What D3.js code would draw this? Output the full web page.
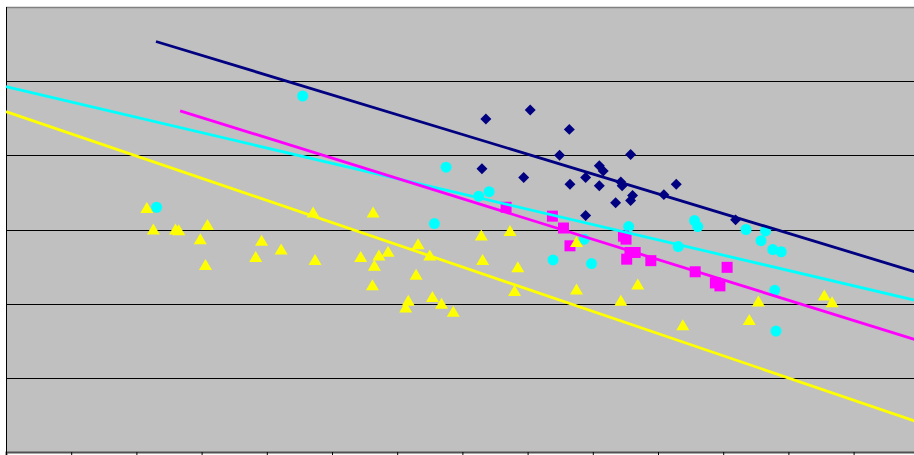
<!DOCTYPE html>
<html>
<head>
<meta charset="utf-8">
<script src="https://cdn.jsdelivr.net/npm/d3@7"></script>
<style>
html,body{margin:0;padding:0;background:#fff;}
svg{display:block;}
</style>
</head>
<body>
<svg id="chart" width="914" height="455"></svg>
<script>
// ---- data (arbitrary units) ----
const xTicks = d3.range(0, 15);          // unlabeled category ticks
const yGrid = [1, 2, 3, 4, 5];           // unlabeled gridlines

const navyX = [7.36,8.04,8.64,8.49,9.58,7.30,7.94,9.10,9.16,8.89,8.65,9.10,9.43,9.45,10.28,10.09,9.61,9.58,9.35,8.89,11.19];
const navyY = [4.49,4.61,4.35,4.00,4.01,3.82,3.70,3.86,3.79,3.70,3.61,3.59,3.64,3.59,3.61,3.47,3.46,3.39,3.36,3.19,3.13];

const cyanX = [2.31,4.55,6.57,6.75,7.41,7.25,9.55,8.87,8.39,8.98,10.31,10.56,10.61,11.35,11.65,11.58,11.76,11.89,11.79,11.81];
const cyanY = [3.30,4.80,3.08,3.84,3.51,3.45,3.04,2.87,2.59,2.54,2.77,3.12,3.04,3.00,2.98,2.85,2.73,2.70,2.18,1.63];

const magentaX = [7.67,8.38,8.55,8.65,9.47,9.51,9.57,9.65,9.52,9.89,10.57,11.06,10.88,10.95];
const magentaY = [3.30,3.18,3.02,2.78,2.91,2.87,2.69,2.69,2.60,2.58,2.43,2.49,2.28,2.24];

const yellowX = [2.16,2.26,2.60,2.65,3.09,2.98,3.06,3.92,4.22,3.83,4.74,4.71,5.63,5.44,5.72,5.86,5.65,6.32,6.50,6.29,5.62,6.17,6.13,6.54,6.68,6.86,7.29,7.73,8.75,7.31,7.85,7.80,8.75,9.43,9.69,10.38,11.54,11.40,12.55,12.67];
const yellowY = [3.29,3.00,3.00,2.99,3.06,2.87,2.52,2.85,2.73,2.63,2.59,3.23,3.23,2.63,2.65,2.70,2.51,2.80,2.65,2.39,2.25,2.04,1.95,2.09,2.00,1.89,2.92,2.98,2.83,2.59,2.49,2.17,2.19,2.04,2.26,1.71,2.03,1.78,2.11,2.02];

// trend lines: [x0, y0, x1, y1]
const navyTrend = [2.30, 5.535, 14, 2.415];
const cyanTrend = [0, 4.925, 14, 2.035];
const magentaTrend = [2.67, 4.60, 14, 1.50];
const yellowTrend = [0, 4.59, 14, 0.40];

// ---- layout ----
const svg = d3.select("#chart");
const plotLeft = 6, plotTop = 7, plotBottom = 452, unitX = 65.2;
const x = d3.scaleLinear().domain([0, 14]).range([plotLeft, plotLeft + 14 * unitX]);
const y = d3.scaleLinear().domain([0, 6]).range([plotBottom, plotTop]);

svg.append("rect").attr("x", x(0)).attr("y", y(6))
  .attr("width", x(14) - x(0)).attr("height", y(0) - y(6))
  .attr("fill", "#C0C0C0");

// gridlines
svg.append("g").selectAll("line").data(yGrid).join("line")
  .attr("x1", x(0)).attr("x2", x(14))
  .attr("y1", d => Math.round(y(d)) + 0.5).attr("y2", d => Math.round(y(d)) + 0.5)
  .attr("stroke", "#000").attr("stroke-width", 1);

// top border
svg.append("line").attr("x1", x(0)).attr("x2", x(14))
  .attr("y1", 7.5).attr("y2", 7.5).attr("stroke", "#808080").attr("stroke-width", 1.5);

// x axis
const xAxis = d3.axisBottom(x).tickValues(xTicks).tickSize(4).tickFormat("");
const gx = svg.append("g").attr("transform", `translate(0,${plotBottom})`).call(xAxis);
gx.select(".domain").attr("stroke", "#505050").attr("stroke-width", 2);
gx.selectAll(".tick line").attr("stroke", "#000").attr("stroke-width", 1);

// y axis line
svg.append("line").attr("x1", 6.5).attr("x2", 6.5).attr("y1", y(6)).attr("y2", y(0))
  .attr("stroke", "#000").attr("stroke-width", 1);

const plot = svg.append("g");

function pts(xs, ys) { return xs.map((v, i) => [v, ys[i]]); }

// navy diamonds
plot.append("g").selectAll("path").data(pts(navyX, navyY)).join("path")
  .attr("d", d3.symbol(d3.symbolSquare, 60)())
  .attr("transform", d => `translate(${x(d[0])},${y(d[1])}) rotate(45)`)
  .attr("fill", "#000080");

// cyan circles
plot.append("g").selectAll("circle").data(pts(cyanX, cyanY)).join("circle")
  .attr("cx", d => x(d[0])).attr("cy", d => y(d[1])).attr("r", 5.5)
  .attr("fill", "#00FFFF");

// magenta squares
plot.append("g").selectAll("rect").data(pts(magentaX, magentaY)).join("rect")
  .attr("x", d => x(d[0]) - 5.5).attr("y", d => y(d[1]) - 5.5)
  .attr("width", 11).attr("height", 11)
  .attr("fill", "#FF00FF");

// yellow triangles
plot.append("g").selectAll("path").data(pts(yellowX, yellowY)).join("path")
  .attr("d", "M0,-6 L6.5,5 L-6.5,5 Z")
  .attr("transform", d => `translate(${x(d[0])},${y(d[1])})`)
  .attr("fill", "#FFFF00");

// trend lines
const trends = [[navyTrend, "#000080"], [cyanTrend, "#00FFFF"], [magentaTrend, "#FF00FF"], [yellowTrend, "#FFFF00"]];
plot.append("g").selectAll("line").data(trends).join("line")
  .attr("x1", d => x(d[0][0])).attr("y1", d => y(d[0][1]))
  .attr("x2", d => x(d[0][2])).attr("y2", d => y(d[0][3]))
  .attr("stroke", d => d[1]).attr("stroke-width", 2.8);
</script>
</body>
</html>
